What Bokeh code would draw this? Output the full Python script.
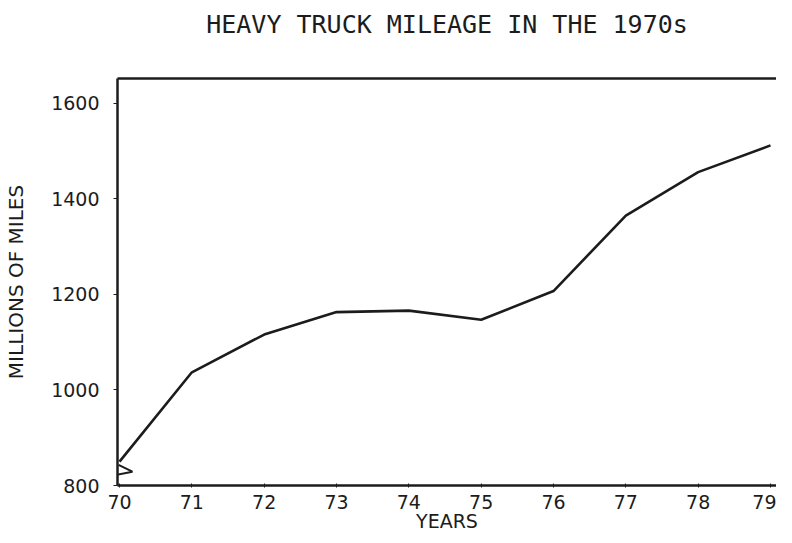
from bokeh.plotting import figure
from bokeh.models import FixedTicker, LinearAxis
from bokeh.embed import file_html
from bokeh.resources import INLINE

# Data
years = [70, 71, 72, 73, 74, 75, 76, 77, 78, 79]
miles = [850, 1037, 1116, 1163, 1166, 1147, 1207, 1365, 1456, 1512]
y_ticks = [800, 1000, 1200, 1400, 1600]
x_tick_labels = {y: str(y) for y in years}
title_text = "HEAVY TRUCK MILEAGE IN THE 1970s"

# axis-break decoration (near the origin)
break_x = [69.986, 70.178, 69.918, 69.80]
break_y = [843, 829, 821, 816]

INK = "#1c1c1c"

p = figure(width=776, height=535, x_range=(69.972, 79.083), y_range=(800, 1652),
           output_backend="svg", toolbar_location=None,
           min_border_left=117, min_border_right=0, min_border_top=78, min_border_bottom=50)
p.outline_line_color = None
p.xgrid.visible = False
p.ygrid.visible = False
p.background_fill_color = "white"
p.border_fill_color = "white"

for ax in (p.xaxis[0], p.yaxis[0]):
    ax.axis_line_color = INK
    ax.axis_line_width = 2.5
    ax.major_tick_line_color = INK
    ax.major_tick_line_width = 1
    ax.minor_tick_line_color = None
    ax.major_label_text_font = "DejaVu Sans"
    ax.major_label_text_font_size = "19px"
    ax.major_label_text_color = INK
    ax.axis_label_text_font = "DejaVu Sans"
    ax.axis_label_text_font_size = "19px"
    ax.axis_label_text_font_style = "normal"
    ax.axis_label_text_color = INK

p.yaxis.axis_label_text_font_size = "20px"

p.xaxis.ticker = FixedTicker(ticks=years)
p.xaxis.major_label_overrides = x_tick_labels
p.xaxis.axis_label = "YEARS"
p.xaxis.major_tick_out = 2
p.xaxis.major_tick_in = 2
p.xaxis.major_label_standoff = 7
p.xaxis.axis_label_standoff = -2

p.yaxis.ticker = FixedTicker(ticks=y_ticks)
p.yaxis.axis_label = "MILLIONS OF MILES"
p.yaxis.major_tick_out = 4
p.yaxis.major_tick_in = 0
p.yaxis.major_label_standoff = 14
p.yaxis.axis_label_standoff = 20

# top frame line, carrying the chart title as its label
top = LinearAxis(ticker=FixedTicker(ticks=[]), major_label_text_font_size="0px",
                 axis_line_color=INK, axis_line_width=2.5,
                 major_tick_line_color=None, minor_tick_line_color=None,
                 major_tick_out=0, major_tick_in=0, major_label_standoff=0,
                 axis_label=title_text, axis_label_standoff=40,
                 axis_label_text_font="DejaVu Sans Mono", axis_label_text_font_size="25px",
                 axis_label_text_font_style="normal", axis_label_text_color=INK)
p.add_layout(top, "above")

p.line(break_x, break_y, line_color=INK, line_width=2)
p.line(years, miles, line_color=INK, line_width=2.6, line_join="round")

open("out.html", "w").write(file_html(p, INLINE))
